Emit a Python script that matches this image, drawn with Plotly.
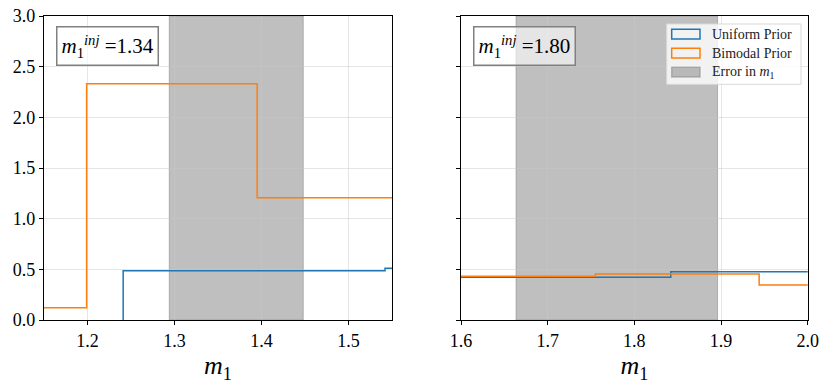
import plotly.graph_objects as go

# step histograms (bin edges + heights)
left_edges_uniform = [1.241, 1.542, 1.60]
left_vals_uniform = [0.487, 0.510]
left_edges_bimodal = [1.00, 1.199, 1.395, 1.60]
left_vals_bimodal = [0.121, 2.332, 1.207]

right_edges_uniform = [1.50, 1.842, 2.10]
right_vals_uniform = [0.421, 0.477]
right_edges_bimodal = [1.50, 1.755, 1.944, 2.10]
right_vals_bimodal = [0.431, 0.454, 0.345]

error_left = [1.294, 1.448]
error_right = [1.6635, 1.896]
inj_values = ["1.34", "1.80"]

left_xticks = [1.2, 1.3, 1.4, 1.5]
right_xticks = [1.6, 1.7, 1.8, 1.9, 2.0]
yticks = [0.0, 0.5, 1.0, 1.5, 2.0, 2.5, 3.0]

BLUE = '#1f77b4'
ORANGE = '#ff7f0e'
FONT = 'Liberation Serif'


def step_xy(edges, vals, from_zero=False):
    # close the last bin so 'hv' draws it to the final edge
    x = list(edges)
    y = list(vals) + [vals[-1]]
    if from_zero:
        x = [edges[0]] + x
        y = [0.0] + y
    return x, y


fig = go.Figure()

panels = [
    ('x', 'y', step_xy(left_edges_uniform, left_vals_uniform, True), step_xy(left_edges_bimodal, left_vals_bimodal)),
    ('x2', 'y2', step_xy(right_edges_uniform, right_vals_uniform), step_xy(right_edges_bimodal, right_vals_bimodal)),
]
for xa, ya, (ux, uy), (bx, by) in panels:
    fig.add_trace(go.Scatter(x=ux, y=uy, mode='lines', line=dict(color=BLUE, width=1.5, shape='hv'),
                             xaxis=xa, yaxis=ya, showlegend=False))
    fig.add_trace(go.Scatter(x=bx, y=by, mode='lines', line=dict(color=ORANGE, width=1.5, shape='hv'),
                             xaxis=xa, yaxis=ya, showlegend=False))

# error bands
for xr, yr, (x0, x1) in [('x', 'y domain', error_left), ('x2', 'y2 domain', error_right)]:
    fig.add_shape(type='rect', xref=xr, yref=yr, x0=x0, x1=x1, y0=0, y1=1,
                  fillcolor='rgba(128,128,128,0.5)', line=dict(color='rgba(128,128,128,0.5)', width=1),
                  layer='below')

# injected value boxes
for xr, yr, val in [('x domain', 'y domain', inj_values[0]), ('x2 domain', 'y2 domain', inj_values[1])]:
    fig.add_annotation(
        xref=xr, yref=yr, x=0.034, y=0.966, xanchor='left', yanchor='top',
        text="<i>m</i><sub>1</sub><sup><i>inj</i></sup> =" + val,
        showarrow=False, font=dict(family=FONT, size=21, color='black'),
        bgcolor='rgba(255,255,255,0.6)', bordercolor='#808080', borderwidth=1.5, borderpad=4
    )

# hand-made legend (matplotlib style patches)
fig.add_shape(type='rect', xref='paper', yref='paper',
              x0=666.7 / 831, x1=801 / 831, y0=1 - 84.3 / 388, y1=1 - 24 / 388,
              fillcolor='rgba(255,255,255,0.8)', line=dict(color='#d9d9d9', width=1), layer='above')
legend_items = [
    ('Uniform Prior', 'rgba(255,255,255,0)', BLUE),
    ('Bimodal Prior', 'rgba(255,255,255,0)', ORANGE),
    ('Error in <i>m</i><sub>1</sub>', 'rgba(128,128,128,0.5)', 'rgba(128,128,128,0.5)'),
]
for i, (label, fc, lc) in enumerate(legend_items):
    top = 29.3 + i * 19.0
    fig.add_shape(type='rect', xref='paper', yref='paper',
                  x0=671.7 / 831, x1=700 / 831, y0=1 - (top + 9.7) / 388, y1=1 - top / 388,
                  fillcolor=fc, line=dict(color=lc, width=1.5), layer='above')
    fig.add_annotation(xref='paper', yref='paper', x=710 / 831, y=1 - (top + 4.9) / 388,
                       xanchor='left', yanchor='middle', text=label, showarrow=False,
                       font=dict(family=FONT, size=14, color='#222'))

axis_common = dict(
    showline=True, linecolor='black', linewidth=1.2, mirror=True,
    ticks='outside', ticklen=4, tickwidth=1, tickcolor='black',
    showgrid=True, gridcolor='rgba(200,200,200,0.45)', gridwidth=1, zeroline=False,
    automargin=False,
    tickfont=dict(family=FONT, size=18, color='black'),
)
x_title = dict(text='<i>m</i><sub>1</sub>', font=dict(family=FONT, size=26, color='black'), standoff=6)

fig.update_layout(
    width=831, height=388,
    margin=dict(l=0, r=0, t=0, b=0),
    paper_bgcolor='white', plot_bgcolor='white',
    showlegend=False,
    xaxis=dict(domain=[44 / 831, 392 / 831], range=[1.15, 1.55], tickvals=left_xticks,
               tickformat='.1f', title=x_title, anchor='y', **axis_common),
    yaxis=dict(domain=[68 / 388, 372 / 388], range=[0, 3], tickvals=yticks,
               tickformat='.1f', anchor='x', **axis_common),
    xaxis2=dict(domain=[461 / 831, 807.7 / 831], range=[1.6, 2.0], tickvals=right_xticks,
                tickformat='.1f', title=x_title, anchor='y2', **axis_common),
    yaxis2=dict(domain=[68 / 388, 372 / 388], range=[0, 3], tickvals=yticks,
                showticklabels=False, anchor='x2', **axis_common),
)

fig.write_html("out.html", config={'displayModeBar': False},
               post_script="document.body.style.margin='0px';")
